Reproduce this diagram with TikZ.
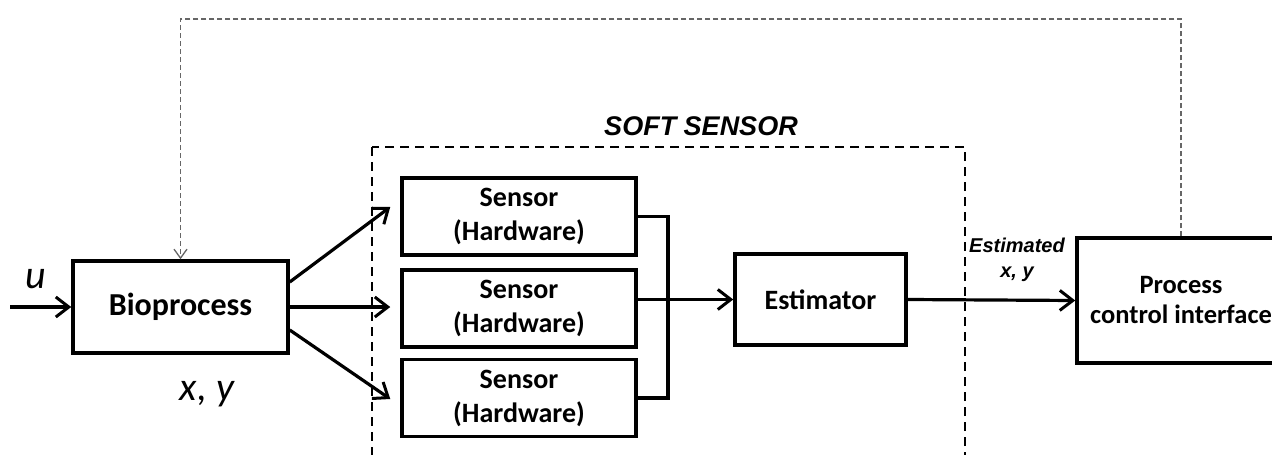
\documentclass[tikz,border=0pt]{standalone}
\usepackage{fontspec}
\setmainfont{Carlito}
\newfontfamily\arialfont{Liberation Sans}
\usetikzlibrary{arrows.meta}

\tikzset{
  blk/.style={draw,line width=3.5pt,align=center,font=\fontsize{28}{34}\selectfont\bfseries,inner sep=0pt},
  sig/.style={line width=3.2pt,-{Straight Barb[length=13pt,width=20pt,line width=3pt]}},
  wire/.style={line width=3.2pt},
  fb/.style={draw=black!60,line width=1.4pt,dash pattern=on 5pt off 3pt,
    -{Straight Barb[length=9pt,width=13pt,line width=1.3pt]}},
  grp/.style={draw,line width=2.3pt,dash pattern=on 9pt off 6pt}
}

\begin{document}
\begin{tikzpicture}[x=1pt,y=-1pt]
  \useasboundingbox (0,0) rectangle (1272,455);

  % soft sensor frame
  \draw[grp] (372,147) rectangle (965,480);
  \node[font=\arialfont\fontsize{27}{30}\selectfont\bfseries\itshape] (title) at (701,126) {SOFT SENSOR};

  % blocks
  \node[blk,font=\fontsize{32}{36}\selectfont\bfseries,minimum width=215pt,minimum height=92pt] (bio) at (180.5,307) {Bioprocess};
  \node[blk,minimum width=234pt,minimum height=77pt] (s1) at (519,216.5) {Sensor\\(Hardware)};
  \node[blk,minimum width=234pt,minimum height=77pt] (s2) at (519,308.5) {Sensor\\(Hardware)};
  \node[blk,minimum width=234pt,minimum height=77pt] (s3) at (519,398) {Sensor\\(Hardware)};
  \node[blk,minimum width=171pt,minimum height=91pt] (est) at (820.5,299.5) {Estimator};
  \node[blk,font=\fontsize{26.5}{30}\selectfont\bfseries,minimum width=208pt,minimum height=125pt] (proc) at (1181,300.5) {Process\\control interface};

  % labels
  \node[font=\fontsize{40}{44}\selectfont\itshape] (u) at (36,279) {u};
  \node[font=\fontsize{40}{44}\selectfont\itshape] (xy) at (207,394) {x, y};
  \node[align=center,font=\arialfont\fontsize{20}{25}\selectfont\bfseries\itshape] (estxy) at (1017,260) {Estimated\\x, y};

  % input and sensor paths
  \coordinate (in) at (10,307);
  \draw[sig] (in) -- (bio.west);
  \draw[sig] ([yshift=25pt]bio.east) -- ([shift={(-10pt,9.5pt)}]s1.west);
  \draw[sig] (bio.east) -- ([xshift=-10pt]bio.east -| s2.west);
  \draw[sig] ([yshift=-23pt]bio.east) -- ([shift={(-10pt,-1pt)}]s3.west);

  % sensors merge into estimator
  \coordinate (jn) at (668,0);
  \draw[wire] (s1.east) -| (jn |- s3.east) -- (s3.east);
  \draw[sig] (s2.east |- est.west) -- (est.west);
  \draw[sig] (est.east) -- (proc.west);

  % feedback to the process
  \coordinate (top) at (0,19);
  \draw[fb] (proc.north) |- (bio.north |- top) -- (bio.north);
\end{tikzpicture}
\end{document}
